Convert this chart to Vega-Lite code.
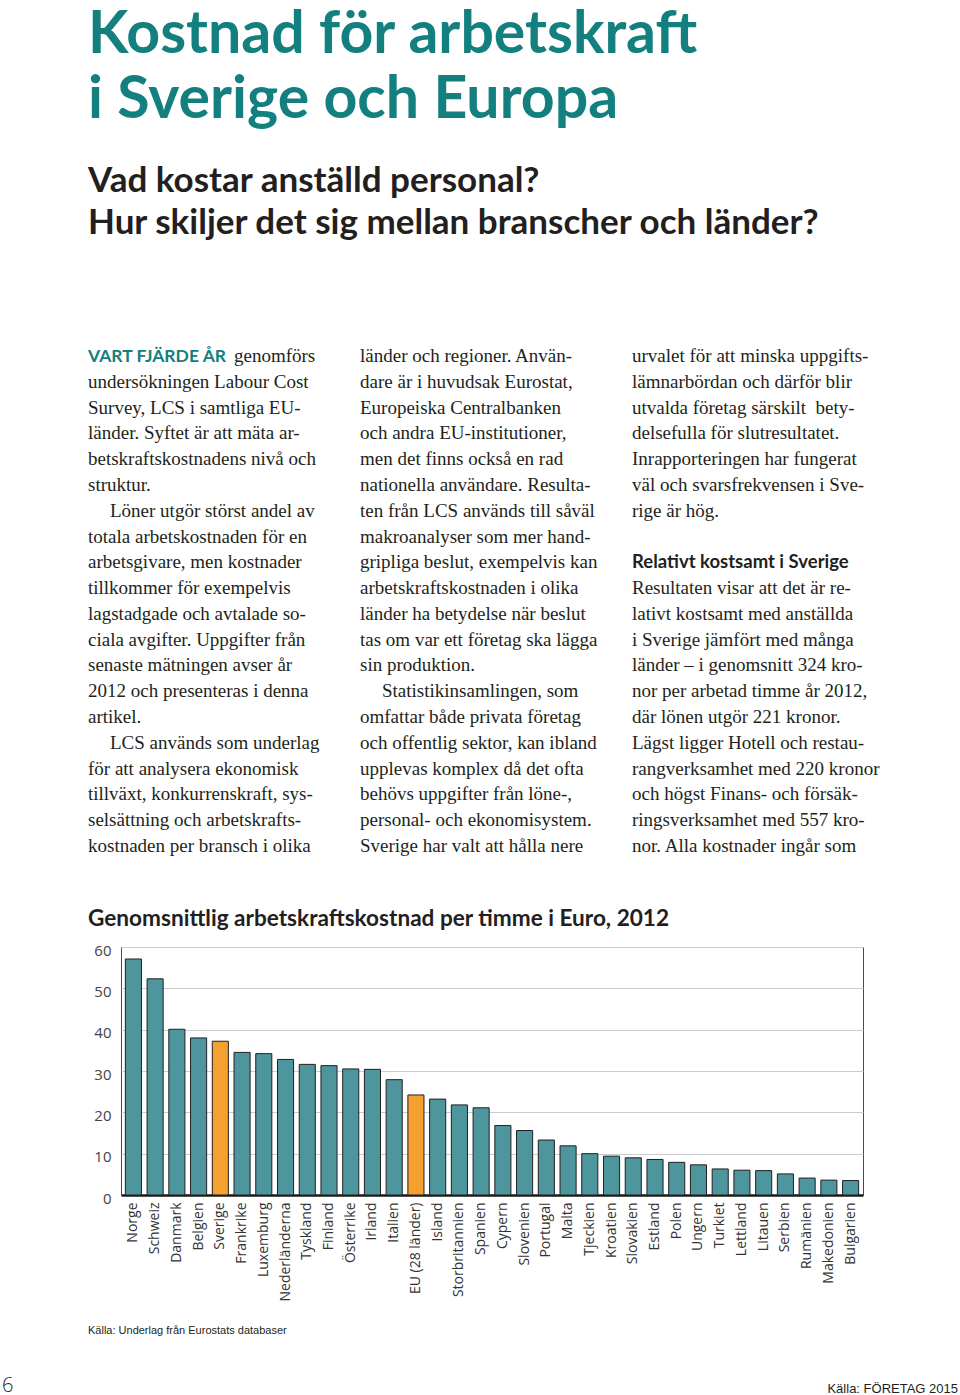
{
  "$schema": "https://vega.github.io/schema/vega-lite/v6.json",
  "padding": {"left": 2, "top": 0, "right": 0, "bottom": 0},
  "background": "white",
  "bounds": "flush",
  "spacing": 0,
  "config": {"view": {"stroke": null}},
  "datasets": {
    "texts": [
      {"part": "rubrik", "col": 0, "line": 0, "text": "Kostnad för arbetskraft"},
      {"part": "rubrik", "col": 0, "line": 1, "text": "i Sverige och Europa"},
      {"part": "underrubrik", "col": 0, "line": 0, "text": "Vad kostar anställd personal?"},
      {"part": "underrubrik", "col": 0, "line": 1, "text": "Hur skiljer det sig mellan branscher och länder?"},
      {"part": "ingress", "col": 0, "line": 0, "text": "VART FJÄRDE ÅR"},
      {"part": "efteringress", "col": 0, "line": 0, "text": "genomförs"},
      {"part": "brödtext", "col": 0, "line": 1, "text": "undersökningen Labour Cost"},
      {"part": "brödtext", "col": 0, "line": 2, "text": "Survey, LCS i samtliga EU-"},
      {"part": "brödtext", "col": 0, "line": 3, "text": "länder. Syftet är att mäta ar-"},
      {"part": "brödtext", "col": 0, "line": 4, "text": "betskraftskostnadens nivå och"},
      {"part": "brödtext", "col": 0, "line": 5, "text": "struktur."},
      {"part": "styckestart", "col": 0, "line": 6, "text": "Löner utgör störst andel av"},
      {"part": "brödtext", "col": 0, "line": 7, "text": "totala arbetskostnaden för en"},
      {"part": "brödtext", "col": 0, "line": 8, "text": "arbetsgivare, men kostnader"},
      {"part": "brödtext", "col": 0, "line": 9, "text": "tillkommer för exempelvis"},
      {"part": "brödtext", "col": 0, "line": 10, "text": "lagstadgade och avtalade so-"},
      {"part": "brödtext", "col": 0, "line": 11, "text": "ciala avgifter. Uppgifter från"},
      {"part": "brödtext", "col": 0, "line": 12, "text": "senaste mätningen avser år"},
      {"part": "brödtext", "col": 0, "line": 13, "text": "2012 och presenteras i denna"},
      {"part": "brödtext", "col": 0, "line": 14, "text": "artikel."},
      {"part": "styckestart", "col": 0, "line": 15, "text": "LCS används som underlag"},
      {"part": "brödtext", "col": 0, "line": 16, "text": "för att analysera ekonomisk"},
      {"part": "brödtext", "col": 0, "line": 17, "text": "tillväxt, konkurrenskraft, sys-"},
      {"part": "brödtext", "col": 0, "line": 18, "text": "selsättning och arbetskrafts-"},
      {"part": "brödtext", "col": 0, "line": 19, "text": "kostnaden per bransch i olika"},
      {"part": "brödtext", "col": 1, "line": 0, "text": "länder och regioner. Använ-"},
      {"part": "brödtext", "col": 1, "line": 1, "text": "dare är i huvudsak Eurostat,"},
      {"part": "brödtext", "col": 1, "line": 2, "text": "Europeiska Centralbanken"},
      {"part": "brödtext", "col": 1, "line": 3, "text": "och andra EU-institutioner,"},
      {"part": "brödtext", "col": 1, "line": 4, "text": "men det finns också en rad"},
      {"part": "brödtext", "col": 1, "line": 5, "text": "nationella användare. Resulta-"},
      {"part": "brödtext", "col": 1, "line": 6, "text": "ten från LCS används till såväl"},
      {"part": "brödtext", "col": 1, "line": 7, "text": "makroanalyser som mer hand-"},
      {"part": "brödtext", "col": 1, "line": 8, "text": "gripliga beslut, exempelvis kan"},
      {"part": "brödtext", "col": 1, "line": 9, "text": "arbetskraftskostnaden i olika"},
      {"part": "brödtext", "col": 1, "line": 10, "text": "länder ha betydelse när beslut"},
      {"part": "brödtext", "col": 1, "line": 11, "text": "tas om var ett företag ska lägga"},
      {"part": "brödtext", "col": 1, "line": 12, "text": "sin produktion."},
      {"part": "styckestart", "col": 1, "line": 13, "text": "Statistikinsamlingen, som"},
      {"part": "brödtext", "col": 1, "line": 14, "text": "omfattar både privata företag"},
      {"part": "brödtext", "col": 1, "line": 15, "text": "och offentlig sektor, kan ibland"},
      {"part": "brödtext", "col": 1, "line": 16, "text": "upplevas komplex då det ofta"},
      {"part": "brödtext", "col": 1, "line": 17, "text": "behövs uppgifter från löne-,"},
      {"part": "brödtext", "col": 1, "line": 18, "text": "personal- och ekonomisystem."},
      {"part": "brödtext", "col": 1, "line": 19, "text": "Sverige har valt att hålla nere"},
      {"part": "brödtext", "col": 2, "line": 0, "text": "urvalet för att minska uppgifts-"},
      {"part": "brödtext", "col": 2, "line": 1, "text": "lämnarbördan och därför blir"},
      {"part": "brödtext", "col": 2, "line": 2, "text": "utvalda företag särskilt \u00a0bety-"},
      {"part": "brödtext", "col": 2, "line": 3, "text": "delsefulla för slutresultatet."},
      {"part": "brödtext", "col": 2, "line": 4, "text": "Inrapporteringen har fungerat"},
      {"part": "brödtext", "col": 2, "line": 5, "text": "väl och svarsfrekvensen i Sve-"},
      {"part": "brödtext", "col": 2, "line": 6, "text": "rige är hög."},
      {"part": "mellanrubrik", "col": 2, "line": 8, "text": "Relativt kostsamt i Sverige"},
      {"part": "brödtext", "col": 2, "line": 9, "text": "Resultaten visar att det är re-"},
      {"part": "brödtext", "col": 2, "line": 10, "text": "lativt kostsamt med anställda"},
      {"part": "brödtext", "col": 2, "line": 11, "text": "i Sverige jämfört med många"},
      {"part": "brödtext", "col": 2, "line": 12, "text": "länder – i genomsnitt 324 kro-"},
      {"part": "brödtext", "col": 2, "line": 13, "text": "nor per arbetad timme år 2012,"},
      {"part": "brödtext", "col": 2, "line": 14, "text": "där lönen utgör 221 kronor."},
      {"part": "brödtext", "col": 2, "line": 15, "text": "Lägst ligger Hotell och restau-"},
      {"part": "brödtext", "col": 2, "line": 16, "text": "rangverksamhet med 220 kronor"},
      {"part": "brödtext", "col": 2, "line": 17, "text": "och högst Finans- och försäk-"},
      {"part": "brödtext", "col": 2, "line": 18, "text": "ringsverksamhet med 557 kro-"},
      {"part": "brödtext", "col": 2, "line": 19, "text": "nor. Alla kostnader ingår som"},
      {"part": "diagramrubrik", "col": 0, "line": 0, "text": "Genomsnittlig arbetskraftskostnad per timme i Euro, 2012"},
      {"part": "källa", "col": 0, "line": 0, "text": "Källa: Underlag från Eurostats databaser"},
      {"part": "sida", "col": 0, "line": 0, "text": "6"},
      {"part": "publikation", "col": 0, "line": 0, "text": "Källa: FÖRETAG 2015"}
    ],
    "kostnad": [
      {"land": "Norge", "euro": 57.1, "grupp": "land"},
      {"land": "Schweiz", "euro": 52.3, "grupp": "land"},
      {"land": "Danmark", "euro": 40.1, "grupp": "land"},
      {"land": "Belgien", "euro": 38.0, "grupp": "land"},
      {"land": "Sverige", "euro": 37.2, "grupp": "markerad"},
      {"land": "Frankrike", "euro": 34.5, "grupp": "land"},
      {"land": "Luxemburg", "euro": 34.2, "grupp": "land"},
      {"land": "Nederländerna", "euro": 32.8, "grupp": "land"},
      {"land": "Tyskland", "euro": 31.6, "grupp": "land"},
      {"land": "Finland", "euro": 31.3, "grupp": "land"},
      {"land": "Österrike", "euro": 30.5, "grupp": "land"},
      {"land": "Irland", "euro": 30.4, "grupp": "land"},
      {"land": "Italien", "euro": 27.9, "grupp": "land"},
      {"land": "EU (28 länder)", "euro": 24.2, "grupp": "markerad"},
      {"land": "Island", "euro": 23.2, "grupp": "land"},
      {"land": "Storbritannien", "euro": 21.8, "grupp": "land"},
      {"land": "Spanien", "euro": 21.1, "grupp": "land"},
      {"land": "Cypern", "euro": 16.8, "grupp": "land"},
      {"land": "Slovenien", "euro": 15.6, "grupp": "land"},
      {"land": "Portugal", "euro": 13.3, "grupp": "land"},
      {"land": "Malta", "euro": 11.9, "grupp": "land"},
      {"land": "Tjeckien", "euro": 10.0, "grupp": "land"},
      {"land": "Kroatien", "euro": 9.4, "grupp": "land"},
      {"land": "Slovakien", "euro": 9.0, "grupp": "land"},
      {"land": "Estland", "euro": 8.6, "grupp": "land"},
      {"land": "Polen", "euro": 7.9, "grupp": "land"},
      {"land": "Ungern", "euro": 7.3, "grupp": "land"},
      {"land": "Turkiet", "euro": 6.3, "grupp": "land"},
      {"land": "Lettland", "euro": 6.0, "grupp": "land"},
      {"land": "Litauen", "euro": 5.9, "grupp": "land"},
      {"land": "Serbien", "euro": 5.1, "grupp": "land"},
      {"land": "Rumänien", "euro": 4.1, "grupp": "land"},
      {"land": "Makedonien", "euro": 3.6, "grupp": "land"},
      {"land": "Bulgarien", "euro": 3.5, "grupp": "land"}
    ]
  },
  "vconcat": [
    {
      "width": 742,
      "height": 947,
      "data": {"name": "texts"},
      "layer": [
        {
          "transform": [{"filter": "datum.part === 'rubrik'"}],
          "mark": {"type": "text", "align": "left", "baseline": "alphabetic", "font": "Lato", "fontWeight": "bold", "fontSize": 59, "fill": "#13807f"},
          "encoding": {
            "x": {"field": "col", "type": "quantitative", "scale": {"domain": [0, 2], "range": [-33, 511], "nice": false, "zero": false}, "axis": null},
            "y": {"field": "line", "type": "quantitative", "scale": {"domain": [0, 1], "range": [53, 118], "nice": false, "zero": false}, "axis": null},
            "text": {"field": "text"}
          }
        },
        {
          "transform": [{"filter": "datum.part === 'underrubrik'"}],
          "mark": {"type": "text", "align": "left", "baseline": "alphabetic", "font": "Lato", "fontWeight": "bold", "fontSize": 35, "fill": "#231f20"},
          "encoding": {
            "x": {"field": "col", "type": "quantitative", "scale": {"domain": [0, 2], "range": [-33, 511], "nice": false, "zero": false}, "axis": null},
            "y": {"field": "line", "type": "quantitative", "scale": {"domain": [0, 1], "range": [192, 234], "nice": false, "zero": false}, "axis": null},
            "text": {"field": "text"}
          }
        },
        {
          "transform": [{"filter": "datum.part === 'ingress'"}],
          "mark": {"type": "text", "align": "left", "baseline": "alphabetic", "font": "Lato", "fontWeight": "bold", "fontSize": 17.5, "fill": "#13807f"},
          "encoding": {
            "x": {"field": "col", "type": "quantitative", "scale": {"domain": [0, 2], "range": [-33, 511], "nice": false, "zero": false}, "axis": null},
            "y": {"field": "line", "type": "quantitative", "scale": {"domain": [0, 19], "range": [362, 852], "nice": false, "zero": false}, "axis": null},
            "text": {"field": "text"}
          }
        },
        {
          "transform": [{"filter": "datum.part === 'efteringress'"}],
          "mark": {"type": "text", "align": "left", "baseline": "alphabetic", "font": "Liberation Serif", "fontSize": 19, "fill": "#231f20", "dx": 146},
          "encoding": {
            "x": {"field": "col", "type": "quantitative", "scale": {"domain": [0, 2], "range": [-33, 511], "nice": false, "zero": false}, "axis": null},
            "y": {"field": "line", "type": "quantitative", "scale": {"domain": [0, 19], "range": [362, 852], "nice": false, "zero": false}, "axis": null},
            "text": {"field": "text"}
          }
        },
        {
          "transform": [{"filter": "datum.part === 'brödtext'"}],
          "mark": {"type": "text", "align": "left", "baseline": "alphabetic", "font": "Liberation Serif", "fontSize": 19, "fill": "#231f20"},
          "encoding": {
            "x": {"field": "col", "type": "quantitative", "scale": {"domain": [0, 2], "range": [-33, 511], "nice": false, "zero": false}, "axis": null},
            "y": {"field": "line", "type": "quantitative", "scale": {"domain": [0, 19], "range": [362, 852], "nice": false, "zero": false}, "axis": null},
            "text": {"field": "text"}
          }
        },
        {
          "transform": [{"filter": "datum.part === 'styckestart'"}],
          "mark": {"type": "text", "align": "left", "baseline": "alphabetic", "font": "Liberation Serif", "fontSize": 19, "fill": "#231f20", "dx": 22},
          "encoding": {
            "x": {"field": "col", "type": "quantitative", "scale": {"domain": [0, 2], "range": [-33, 511], "nice": false, "zero": false}, "axis": null},
            "y": {"field": "line", "type": "quantitative", "scale": {"domain": [0, 19], "range": [362, 852], "nice": false, "zero": false}, "axis": null},
            "text": {"field": "text"}
          }
        },
        {
          "transform": [{"filter": "datum.part === 'mellanrubrik'"}],
          "mark": {"type": "text", "align": "left", "baseline": "alphabetic", "font": "Lato", "fontWeight": "bold", "fontSize": 18.5, "fill": "#231f20"},
          "encoding": {
            "x": {"field": "col", "type": "quantitative", "scale": {"domain": [0, 2], "range": [-33, 511], "nice": false, "zero": false}, "axis": null},
            "y": {"field": "line", "type": "quantitative", "scale": {"domain": [0, 19], "range": [362, 852], "nice": false, "zero": false}, "axis": null},
            "text": {"field": "text"}
          }
        },
        {
          "transform": [{"filter": "datum.part === 'diagramrubrik'"}],
          "mark": {"type": "text", "align": "left", "baseline": "alphabetic", "font": "Lato", "fontWeight": "bold", "fontSize": 22.6, "fill": "#231f20"},
          "encoding": {
            "x": {"field": "col", "type": "quantitative", "scale": {"domain": [0, 2], "range": [-33, 511], "nice": false, "zero": false}, "axis": null},
            "y": {"field": "line", "type": "quantitative", "scale": {"domain": [0, 1], "range": [926, 936], "nice": false, "zero": false}, "axis": null},
            "text": {"field": "text"}
          }
        }
      ],
      "resolve": {"scale": {"x": "independent", "y": "independent"}}
    },
    {
      "width": 742,
      "height": 248,
      "view": {"stroke": "#4a4a4a", "strokeWidth": 1},
      "data": {"name": "kostnad"},
      "mark": {"type": "bar", "stroke": "#231f20", "strokeWidth": 1},
      "encoding": {
        "x": {
          "field": "land", "type": "nominal", "sort": null,
          "scale": {"paddingInner": 0.26, "paddingOuter": 0.2},
          "axis": {"title": null, "labelAngle": -90, "labelAlign": "right", "labelBaseline": "middle", "labelFont": "Open Sans", "labelFontSize": 14, "labelColor": "#333333", "labelPadding": 7, "ticks": false, "domainColor": "#1a1a1a", "domainWidth": 2.5, "labelOverlap": false, "labelLimit": 0}
        },
        "y": {
          "field": "euro", "type": "quantitative",
          "scale": {"domain": [0, 60], "nice": false},
          "axis": {"title": null, "values": [0, 10, 20, 30, 40, 50, 60], "domain": false, "ticks": false, "gridColor": "#cccccc", "labelFont": "Open Sans", "labelFontSize": 15, "labelColor": "#444444", "labelPadding": 10, "labelOffset": 3}
        },
        "fill": {"field": "grupp", "type": "nominal", "scale": {"domain": ["land", "markerad"], "range": ["#4d969e", "#f5a12f"]}, "legend": null}
      }
    },
    {
      "width": 742,
      "height": 200,
      "data": {"name": "texts"},
      "layer": [
        {
          "transform": [{"filter": "datum.part === 'källa'"}],
          "mark": {"type": "text", "align": "left", "baseline": "alphabetic", "font": "Liberation Sans", "fontSize": 11, "fill": "#231f20"},
          "encoding": {
            "x": {"field": "col", "type": "quantitative", "scale": {"domain": [0, 1], "range": [-33, 67], "nice": false, "zero": false}, "axis": null},
            "y": {"field": "line", "type": "quantitative", "scale": {"domain": [0, 1], "range": [139, 149], "nice": false, "zero": false}, "axis": null},
            "text": {"field": "text"}
          }
        },
        {
          "transform": [{"filter": "datum.part === 'sida'"}],
          "mark": {"type": "text", "align": "left", "baseline": "alphabetic", "font": "Open Sans", "fontWeight": 300, "fontSize": 20, "fill": "#231f20"},
          "encoding": {
            "x": {"field": "col", "type": "quantitative", "scale": {"domain": [0, 1], "range": [-119, -19], "nice": false, "zero": false}, "axis": null},
            "y": {"field": "line", "type": "quantitative", "scale": {"domain": [0, 1], "range": [197, 207], "nice": false, "zero": false}, "axis": null},
            "text": {"field": "text"}
          }
        },
        {
          "transform": [{"filter": "datum.part === 'publikation'"}],
          "mark": {"type": "text", "align": "right", "baseline": "alphabetic", "font": "Liberation Sans", "fontSize": 13, "fill": "#231f20"},
          "encoding": {
            "x": {"field": "col", "type": "quantitative", "scale": {"domain": [0, 1], "range": [837, 937], "nice": false, "zero": false}, "axis": null},
            "y": {"field": "line", "type": "quantitative", "scale": {"domain": [0, 1], "range": [198, 208], "nice": false, "zero": false}, "axis": null},
            "text": {"field": "text"}
          }
        }
      ],
      "resolve": {"scale": {"x": "independent", "y": "independent"}}
    }
  ]
}
